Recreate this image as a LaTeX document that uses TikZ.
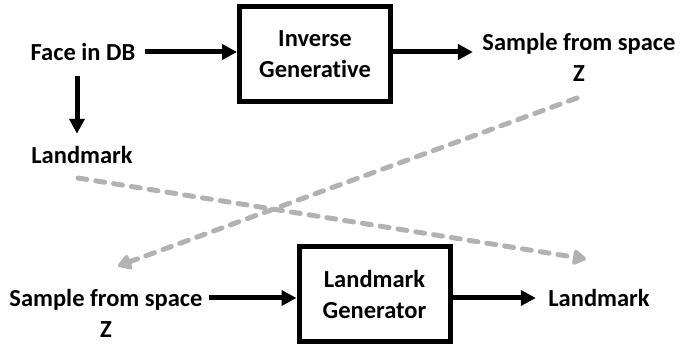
\documentclass[tikz,border=0pt]{standalone}
\usepackage{fontspec}
\setmainfont{Carlito}[Ligatures=NoCommon]
\usetikzlibrary{arrows.meta,positioning}

\begin{document}
\begin{tikzpicture}[x=1pt,y=-1pt,every node/.style={font=\fontsize{24.5}{31}\selectfont\bfseries,align=center}]
\tikzset{blk/.style={draw,line width=5pt,minimum width=151pt,minimum height=95pt},
flow/.style={line width=5pt,-{Triangle[length=15pt,width=15pt]}},
link/.style={line width=5pt,draw=black!30,dash pattern=on 9pt off 9pt,line cap=round,-{Triangle[length=15pt,width=17pt,round]}}}
\useasboundingbox (0,0) rectangle (683,352);
\node (face) at (83,52) {Face in DB};
\node[blk] (inv) at (315,54.5) {Inverse\\Generative};
\node (zout) at (579,57) {Sample from space\\Z};
\node (lmk) at (82,155) {Landmark};
\node (zin) at (106,313) {Sample from space\\Z};
\node[blk] (gen) at (374.5,294) {Landmark\\Generator};
\node (lmkout) at (599,298) {Landmark};
\coordinate (lmktail) at (78,178);
\coordinate (lmktip) at (586,259);
\coordinate (ztail) at (577,98);
\coordinate (ztip) at (118,266);
% solid flow
\draw[flow] ([xshift=6pt]face.east) -- (face.east -| inv.west);
\draw[flow] (face.east -| inv.east) -- ([xshift=-6pt]face.east -| zout.west);
\draw[flow,shorten <=12pt,shorten >=9pt] ([xshift=-6pt]face.south) -- ([xshift=-5pt]lmk.north);
\draw[flow] ([xshift=3pt]zin.east |- lmkout) -- (gen.west |- lmkout);
\draw[flow] (gen.east |- lmkout) -- ([xshift=-9pt]lmkout.west);
% dashed links
\draw[link] (lmktail) -- (lmktip);
\draw[link] (ztail) -- (ztip);
\end{tikzpicture}
\end{document}
